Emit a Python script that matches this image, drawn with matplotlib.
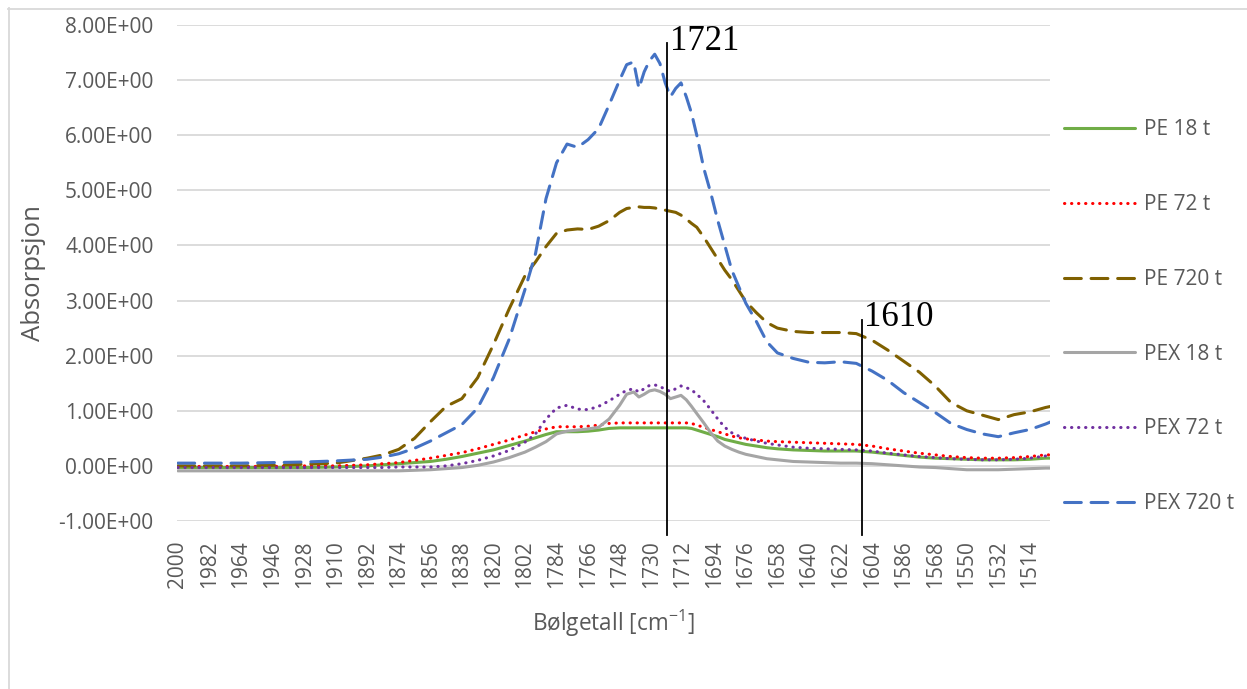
import matplotlib
matplotlib.use("Agg")
import matplotlib.pyplot as plt
from matplotlib.lines import Line2D

# Wavenumber grid (cm-1), descending as measured
wavenumber = [2000, 1982, 1964, 1946, 1928, 1910, 1892,
              1883, 1874, 1865, 1856, 1847, 1838, 1829, 1820, 1811, 1802,
              1796, 1790, 1784, 1778, 1772, 1766, 1760, 1754, 1748,
              1744, 1740, 1737, 1734, 1731, 1728, 1725, 1722, 1719, 1716, 1713, 1710, 1707, 1704,
              1700, 1696, 1692, 1688, 1684, 1680, 1676,
              1670, 1664, 1658,
              1649, 1640, 1631, 1622, 1613, 1604, 1595, 1586, 1577, 1568, 1559, 1550, 1541, 1532, 1523, 1514, 1505,
              1502]

pe_18 = [-0.03, -0.03, -0.03, -0.03, -0.03, -0.02, 0.00,
         0.02, 0.04, 0.06, 0.08, 0.12, 0.17, 0.23, 0.29, 0.37, 0.45,
         0.51, 0.57, 0.62, 0.62, 0.62, 0.63, 0.65, 0.68, 0.69,
         0.69, 0.69, 0.69, 0.69, 0.69, 0.69, 0.69, 0.69, 0.69, 0.69, 0.69, 0.69, 0.68, 0.65,
         0.61, 0.57, 0.53, 0.48, 0.45, 0.42, 0.39,
         0.36, 0.33, 0.31,
         0.29, 0.28, 0.27, 0.27, 0.27, 0.25, 0.22, 0.19, 0.16, 0.14, 0.13, 0.12, 0.11, 0.11, 0.11, 0.12, 0.14,
         0.14]

pe_72 = [-0.01, -0.01, -0.01, -0.01, 0.00, 0.00, 0.02,
         0.04, 0.06, 0.10, 0.14, 0.19, 0.24, 0.31, 0.39, 0.47, 0.56,
         0.62, 0.67, 0.71, 0.71, 0.71, 0.72, 0.74, 0.77, 0.78,
         0.78, 0.78, 0.78, 0.78, 0.78, 0.78, 0.78, 0.78, 0.78, 0.78, 0.78, 0.78, 0.77, 0.74,
         0.70, 0.66, 0.62, 0.58, 0.54, 0.51, 0.49,
         0.47, 0.45, 0.44,
         0.43, 0.42, 0.41, 0.40, 0.39, 0.36, 0.31, 0.27, 0.23, 0.20, 0.17, 0.15, 0.14, 0.14, 0.15, 0.17, 0.20,
         0.20]

pe_720 = [0.00, 0.00, 0.00, 0.01, 0.03, 0.05, 0.14,
          0.20, 0.30, 0.50, 0.80, 1.08, 1.22, 1.60, 2.20, 2.85, 3.45,
          3.70, 3.98, 4.22, 4.28, 4.30, 4.29, 4.35, 4.45, 4.60,
          4.67, 4.69, 4.70, 4.69, 4.69, 4.68, 4.66, 4.64, 4.62, 4.60, 4.55, 4.48, 4.40, 4.33,
          4.15, 3.95, 3.75, 3.55, 3.38, 3.18, 2.98,
          2.78, 2.60, 2.50,
          2.44, 2.42, 2.42, 2.42, 2.40, 2.28, 2.10, 1.90, 1.70, 1.45, 1.15, 1.00, 0.92, 0.84, 0.93, 0.98, 1.06,
          1.08]

pex_18 = [-0.09, -0.09, -0.09, -0.09, -0.09, -0.09, -0.09,
          -0.09, -0.09, -0.08, -0.07, -0.05, -0.03, 0.01, 0.07, 0.15, 0.25,
          0.34, 0.44, 0.58, 0.63, 0.65, 0.67, 0.70, 0.85, 1.10,
          1.30, 1.34, 1.25, 1.30, 1.36, 1.38, 1.35, 1.30, 1.22, 1.25, 1.28, 1.20, 1.08, 0.95,
          0.78, 0.60, 0.45, 0.36, 0.30, 0.25, 0.21,
          0.17, 0.13, 0.11,
          0.08, 0.07, 0.06, 0.05, 0.05, 0.04, 0.02, 0.00, -0.02, -0.03, -0.05, -0.07, -0.07, -0.07, -0.06, -0.05, -0.04,
          -0.04]

pex_72 = [-0.03, -0.03, -0.03, -0.03, -0.03, -0.03, -0.03,
          -0.03, -0.02, -0.02, -0.02, 0.00, 0.04, 0.10, 0.18, 0.28, 0.43,
          0.58, 0.85, 1.05, 1.10, 1.03, 1.02, 1.08, 1.18, 1.30,
          1.37, 1.40, 1.34, 1.40, 1.46, 1.47, 1.44, 1.39, 1.35, 1.40, 1.45, 1.42, 1.38, 1.30,
          1.18, 1.02, 0.85, 0.70, 0.60, 0.54, 0.50,
          0.45, 0.41, 0.38,
          0.34, 0.32, 0.31, 0.30, 0.29, 0.27, 0.23, 0.20, 0.17, 0.15, 0.13, 0.12, 0.11, 0.11, 0.12, 0.14, 0.18,
          0.20]

pex_720 = [0.05, 0.05, 0.05, 0.06, 0.07, 0.09, 0.12,
           0.16, 0.22, 0.32, 0.45, 0.60, 0.75, 1.05, 1.60, 2.30, 3.20,
           3.85, 4.85, 5.50, 5.84, 5.78, 5.92, 6.12, 6.55, 7.00,
           7.28, 7.33, 6.85, 7.15, 7.35, 7.47, 7.30, 6.95, 6.70, 6.85, 6.95, 6.70, 6.40, 6.00,
           5.40, 4.95, 4.45, 4.00, 3.55, 3.25, 2.95,
           2.62, 2.25, 2.05,
           1.95, 1.88, 1.87, 1.89, 1.86, 1.72, 1.55, 1.33, 1.15, 0.97, 0.77, 0.66, 0.58, 0.53, 0.60, 0.66, 0.76,
           0.80]

series_labels = ["PE 18 t", "PE 72 t", "PE 720 t", "PEX 18 t", "PEX 72 t", "PEX 720 t"]
x_tick_values = list(range(2000, 1500, -18))
y_tick_values = [-1, 0, 1, 2, 3, 4, 5, 6, 7, 8]
marked_peaks = [1721, 1610]
marker_tops = [7.67, 2.65]

ui_font = "Open Sans"
text_grey = "#595959"
plt.rcParams["font.family"] = [ui_font, "DejaVu Sans"]
plt.rcParams["mathtext.default"] = "regular"

W, H = 1247, 689
fig = plt.figure(figsize=(W / 100, H / 100), dpi=100)
fig.patch.set_facecolor("white")

ax = fig.add_axes([177 / W, 1 - 521 / H, (1050 - 177) / W, (521 - 25) / H])
ax.set_facecolor("white")

dotted = (0, (0.1, 2.2))
dashed = (0, (5.5, 3.2))
styles = [
    dict(color="#70AD47", linestyle="-"),
    dict(color="#FF0000", linestyle=dotted),
    dict(color="#7F6000", linestyle=dashed),
    dict(color="#A5A5A5", linestyle="-"),
    dict(color="#7030A0", linestyle=dotted),
    dict(color="#4472C4", linestyle=dashed),
]
all_series = [pe_18, pe_72, pe_720, pex_18, pex_72, pex_720]

for vals, lab, st in zip(all_series, series_labels, styles):
    ax.plot(wavenumber, vals, label=lab, linewidth=2.2, solid_capstyle="round",
            dash_capstyle="round", **st)

ax.set_xlim(2000.5, 1502.5)
ax.set_ylim(-1, 8)
ax.set_yticks(y_tick_values)
ax.set_yticklabels([f"{v:.2E}" for v in y_tick_values])
ax.set_xticks(x_tick_values)
ax.set_xticklabels([str(v) for v in x_tick_values], rotation=90)
ax.tick_params(length=0, labelcolor=text_grey, labelsize=15)
ax.tick_params(axis="y", pad=17)
ax.tick_params(axis="x", pad=14)
for sp in ax.spines.values():
    sp.set_visible(False)
ax.yaxis.grid(True, color="#D9D9D9", linewidth=1.3)
ax.set_axisbelow(True)

ax.set_ylabel("Absorpsjon", fontsize=18.5, color=text_grey)
ax.yaxis.set_label_coords((46 - 177) / 873, 0.5)
ax.set_xlabel(r"Bølgetall [cm$^{-1}$]", fontsize=16.3, color=text_grey)
ax.xaxis.set_label_coords((613 - 177) / 873, (521 - 608) / 496)

# Peak markers
for wn, top in zip(marked_peaks, marker_tops):
    ax.plot([wn, wn], [-1.25, top], color="black", linewidth=1.3, clip_on=False, zorder=5)
    ax.annotate(str(wn), xy=(wn, top), xytext=(2, 1.5), textcoords="offset points",
                ha="left", va="center", fontsize=25, family="Liberation Serif", color="black",
                annotation_clip=False)

leg = ax.legend(loc="upper left", bbox_to_anchor=(1054 / W, 1 - 109 / H),
                bbox_transform=fig.transFigure, frameon=False, fontsize=15,
                handlelength=3.4, handletextpad=0.4, labelspacing=2.58, borderpad=0)
for t in leg.get_texts():
    t.set_color(text_grey)

# Chart area border
fig.add_artist(Line2D([8.5 / W, 8.5 / W], [0, 1 - 8 / H], color="#D9D9D9", linewidth=1.3))
fig.add_artist(Line2D([8 / W, 1], [1 - 8.5 / H, 1 - 8.5 / H], color="#D9D9D9", linewidth=1.3))

fig.savefig("out.png", dpi=100, facecolor="white")
